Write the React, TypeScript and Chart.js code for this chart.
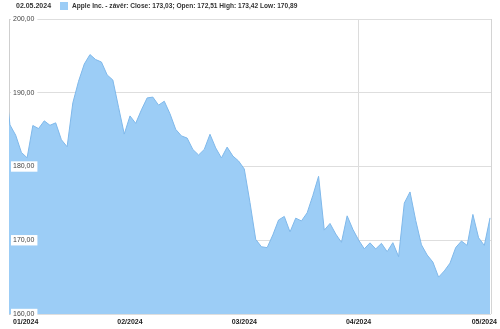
import React, { useEffect, useRef } from "react";
import { Chart, registerables } from "chart.js";

Chart.register(...registerables);

// Trading days 29.12.2023 .. 02.05.2024 (closing prices)
const closes: number[] = [
  192.53,
  185.64, 184.25, 181.91, 181.18, 185.56, 185.14, 186.19, 185.59, 185.92, 183.63,
  182.68, 188.63, 191.56, 193.89, 195.18, 194.5, 194.17, 192.42, 191.73, 188.04, 184.4,
  186.86, 185.85, 187.68, 189.3, 189.41, 188.32, 188.85, 187.15, 185.04, 184.15,
  183.86, 182.31, 181.56, 182.32, 184.37, 182.52, 181.16, 182.63, 181.42, 180.75,
  179.66, 175.1, 170.12, 169.12, 169.0, 170.73, 172.75, 173.23, 171.13, 173.0,
  172.62, 173.72, 176.08, 178.67, 171.37, 172.28, 170.85, 169.71, 173.31, 171.48,
  170.03, 168.84, 169.65, 168.82, 169.58, 168.45, 169.67, 167.78, 175.04, 176.55,
  172.69, 169.38, 168.0, 167.04, 165.0, 165.84, 166.9, 169.02, 169.89, 169.3,
  173.5, 170.33,
  169.3, 173.03,
];
// index of the first trading day of each month (0 = 02.01.2024)
const monthStartIdx: number[] = [0, 21, 41, 61, 83];
const monthLabels: string[] = ["01/2024", "02/2024", "03/2024", "04/2024", "05/2024"];
const gridMonthIdx: number[] = [61];
const yTicks: number[] = [160, 170, 180, 190, 200];
const headerDate = "02.05.2024";
const seriesLabel = "Apple Inc. - závěr: Close: 173,03; Open: 172,51 High: 173,42 Low: 170,89";

const FILL = "#9ccdf6";
const STROKE = "#7fb8ea";
const FONT = "'Liberation Sans', Arial, sans-serif";

const fmt = (v: number) => v.toFixed(2).replace(".", ",");

const overlay = {
  id: "overlay",
  afterDraw(chart: any) {
    const { ctx, chartArea, scales } = chart;
    const x = scales.x;
    ctx.save();
    // right frame line
    ctx.strokeStyle = "#d4d4d4";
    ctx.lineWidth = 1;
    ctx.beginPath();
    ctx.moveTo(Math.round(chartArea.right) + 0.5, chartArea.top);
    ctx.lineTo(Math.round(chartArea.right) + 0.5, chartArea.bottom);
    ctx.stroke();
    // header
    ctx.textBaseline = "middle";
    ctx.textAlign = "left";
    ctx.fillStyle = "#333";
    ctx.font = `bold 7px ${FONT}`;
    ctx.fillText(headerDate, 16, 6);
    ctx.fillStyle = FILL;
    ctx.fillRect(60, 2, 8, 8);
    ctx.fillStyle = "#333";
    ctx.font = `bold 6.6px ${FONT}`;
    ctx.fillText(seriesLabel, 72, 6);
    // x labels
    ctx.font = `bold 7px ${FONT}`;
    ctx.fillStyle = "#222";
    monthLabels.forEach((lab, i) => {
      const px = x.getPixelForValue(monthStartIdx[i]);
      const w = ctx.measureText(lab).width;
      let left = px - w / 2;
      if (left < chartArea.left + 4) left = chartArea.left + 4;
      ctx.fillText(lab, left, 322);
    });
    ctx.restore();
  },
};

export default function App() {
  const ref = useRef<HTMLCanvasElement | null>(null);
  useEffect(() => {
    document.body.style.margin = "0";
    const canvas = ref.current!;
    const chart = new Chart(canvas, {
      type: "line",
      data: {
        datasets: [
          {
            label: seriesLabel,
            data: closes.map((v, i) => ({ x: i - 1, y: v })),
            borderColor: STROKE,
            backgroundColor: FILL,
            borderWidth: 1,
            fill: "start",
            pointRadius: 0,
            tension: 0,
            clip: 0,
          },
        ],
      },
      options: {
        animation: false,
        responsive: false,
        maintainAspectRatio: false,
        events: [],
        layout: { padding: { left: 1, right: 9, top: 19, bottom: 15 } },
        plugins: { legend: { display: false }, tooltip: { enabled: false } },
        scales: {
          x: {
            type: "linear",
            min: -0.17,
            max: 84.17,
            afterBuildTicks: (s: any) => {
              s.ticks = monthStartIdx.map((v) => ({ value: v }));
            },
            ticks: { display: false },
            border: { display: false },
            grid: {
              drawTicks: false,
              color: (c: any) =>
                c.tick && gridMonthIdx.includes(c.tick.value) ? "#dcdcdc" : "rgba(0,0,0,0)",
            },
          },
          y: {
            min: 160,
            max: 200,
            afterBuildTicks: (s: any) => {
              s.ticks = yTicks.map((v) => ({ value: v }));
            },
            ticks: {
              mirror: true,
              padding: 4,
              color: "#444",
              font: { family: FONT, size: 7 },
              callback: (v: any) => fmt(Number(v)),
              showLabelBackdrop: true,
              backdropColor: "#ffffff",
              backdropPadding: { left: 2, right: 3, top: 1, bottom: 1 },
              z: 1,
            },
            border: { display: true, color: "#cfcfcf" },
            grid: { drawTicks: false, color: "#dedede" },
          },
        },
      },
      plugins: [overlay],
    } as any);
    return () => chart.destroy();
  }, []);
  return <canvas ref={ref} width={500} height={329} style={{ display: "block" }} />;
}
